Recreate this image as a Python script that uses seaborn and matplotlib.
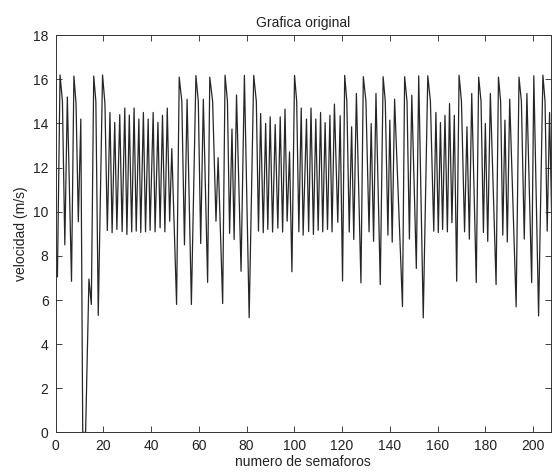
import numpy as np
import pandas as pd
import seaborn as sns
from matplotlib import pyplot as plt

# vertices (semaforo number, speed in m/s)
semaforo = [
    0.8, 1.9, 2.9, 3.9, 4.95, 6.7, 7.7, 8.6, 9.55, 10.6, 11.4, 12.6, 14.0, 15.0,
    16.0, 16.9, 17.9, 19.7, 20.7, 21.7,
    22.8, 23.7, 24.8, 25.7, 26.9, 27.9, 29.0, 29.9, 30.9, 31.9, 32.9, 33.8,
    34.9, 35.7, 36.8, 37.7, 38.8, 39.6, 40.9, 41.7, 42.9, 43.8, 44.8, 45.8,
    46.8, 47.8, 48.7, 50.7, 51.8, 52.9, 54.0, 55.1, 56.9, 58.8, 59.8, 60.8,
    61.9, 63.7, 64.6, 65.8, 67.2, 68.1, 70.0, 71.0, 72.0, 72.9, 73.9, 74.8,
    75.8, 77.7, 79.1, 81.1, 83.0, 84.1, 85.0, 85.9, 87.0, 88.0, 88.9, 89.9,
    90.9, 92.0, 93.1, 94.1, 95.1, 96.1, 97.0, 98.0, 99.0, 100.1, 101.0, 101.9,
    102.9, 103.7, 105.1, 106.0, 107.0, 108.0, 109.0, 110.0, 111.0, 111.9,
    112.9, 113.9, 114.9, 115.8, 116.8, 118.2, 119.2, 120.2, 121.1, 122.0,
    123.0, 124.0, 124.9, 126.0, 127.9, 128.9, 130.0, 131.3, 132.2, 133.2,
    134.2, 136.0, 137.2, 138.1, 139.2, 140.0, 141.0, 142.0, 145.3, 146.2,
    147.2, 148.2, 149.2, 151.1, 152.1, 154.0, 155.9, 157.0, 158.4, 159.3,
    160.3, 161.2, 162.1, 163.1, 164.1, 165.0, 166.0, 167.0, 168.0, 169.0,
    170.0, 171.3, 172.3, 173.3, 174.3, 176.2, 177.2, 178.2, 179.2, 180.0,
    181.0, 182.1, 184.5, 185.5, 186.4, 187.3, 188.2, 189.2, 190.2, 192.9,
    194.1, 195.1, 196.3, 197.4, 199.4, 200.3, 202.3, 204.1, 205.0, 205.9,
    206.9, 207.9,
]
velocidad = [
    7.05, 16.2, 15.0, 8.5, 15.2, 6.85, 16.15, 14.9, 9.55, 14.2, 0.0, 0.0, 6.95, 5.8,
    16.15, 15.0, 5.3, 16.2, 14.9, 9.15,
    14.5, 9.05, 14.05, 9.2, 14.4, 9.1, 14.7, 8.97, 14.38, 9.09, 14.7, 9.12,
    14.2, 9.06, 14.5, 9.09, 14.2, 9.16, 14.5, 9.09, 14.05, 9.27, 14.37, 9.09,
    14.7, 9.57, 12.86, 5.8, 16.1, 15.0, 8.5, 15.1, 5.8, 16.17, 15.0, 8.56,
    15.1, 6.8, 16.1, 15.0, 9.57, 12.45, 5.84, 16.19, 15.0, 9.02, 13.75, 8.74,
    15.29, 7.3, 16.18, 5.2, 16.18, 15.0, 9.12, 14.45, 9.05, 14.0, 9.2, 14.3,
    9.08, 13.95, 9.26, 14.3, 9.08, 14.65, 9.57, 12.71, 7.28, 16.18, 15.0, 9.09,
    14.7, 8.94, 14.2, 9.1, 14.7, 8.97, 14.2, 9.16, 14.5, 9.09,
    14.04, 9.2, 14.37, 9.09, 14.88, 9.52, 14.35, 6.86, 16.18, 15.0,
    9.08, 13.85, 8.74, 15.36, 6.78, 16.12, 15.0, 9.09, 14.0, 8.66,
    15.36, 6.7, 16.12, 15.0, 8.94, 14.15, 8.62, 15.1, 5.7, 16.12,
    15.0, 8.76, 15.28, 7.43, 16.16, 5.19, 16.16, 15.0, 9.12, 14.5,
    9.06, 14.04, 9.2, 14.37, 9.09, 14.9, 9.5, 14.37, 6.85, 16.19,
    15.0, 9.09, 13.85, 8.76, 15.36, 6.79, 16.1, 15.0, 9.06, 14.0,
    8.66, 15.36, 6.7, 16.1, 15.0, 8.94, 14.15, 8.63, 15.1, 5.69,
    16.1, 15.0, 8.76, 15.36, 6.79, 16.16, 5.28, 16.19, 15.0, 9.12,
    14.5, 9.1,
]

x_ticks = list(range(0, 201, 20))
y_ticks = list(range(0, 19, 2))

sns.set_style("ticks")
plt.rcParams["font.family"] = ["Liberation Sans", "DejaVu Sans"]
plt.rcParams["xtick.direction"] = "in"
plt.rcParams["ytick.direction"] = "in"
plt.rcParams["xtick.top"] = True
plt.rcParams["ytick.right"] = True

df = pd.DataFrame({"semaforo": semaforo, "velocidad": velocidad})

fig = plt.figure(figsize=(5.54, 4.72), dpi=100)
ax = fig.add_axes([0.1002, 0.0839, 0.8944, 0.8415])
sns.lineplot(data=df, x="semaforo", y="velocidad", sort=False, estimator=None,
             color="#262626", linewidth=0.9, ax=ax)

ax.set_xlim(0, 207.5)
ax.set_ylim(0, 18)
ax.set_xticks(x_ticks)
ax.set_yticks(y_ticks)
ax.tick_params(labelsize=10, length=4, width=0.6, colors="#222222", pad=5)
for s in ax.spines.values():
    s.set_visible(True)
    s.set_linewidth(0.7)
    s.set_color("#333333")

ax.set_title("Grafica original", fontsize=10, color="#222222", pad=6)
ax.set_xlabel("numero de semaforos", fontsize=10, color="#222222", labelpad=1)
ax.set_ylabel("velocidad (m/s)", fontsize=10, color="#222222", labelpad=4)

fig.savefig("out.png", dpi=100)
